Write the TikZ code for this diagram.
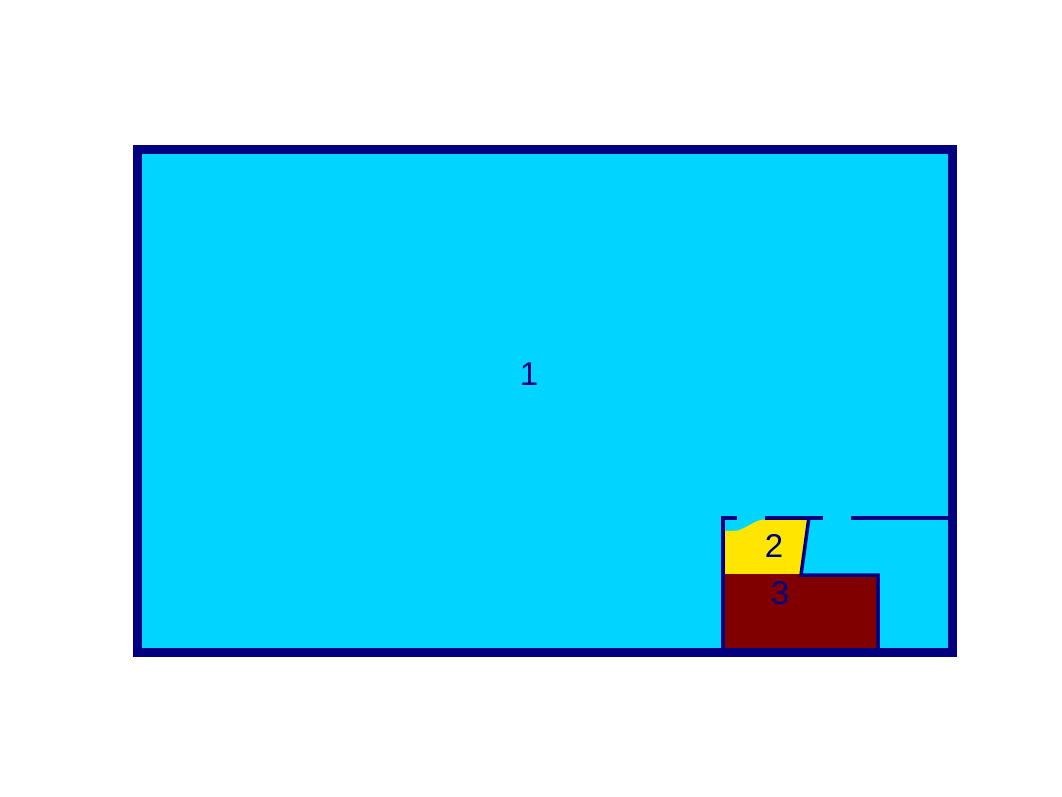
\documentclass[tikz,border=0pt]{standalone}
\usepackage{fontspec}
\setmainfont{Liberation Sans}
\usepackage{tikz}
\usetikzlibrary{calc}
\definecolor{wasser}{RGB}{0,212,255}
\definecolor{gelb}{RGB}{255,230,0}
\definecolor{braun}{RGB}{128,0,0}
\definecolor{rand}{RGB}{0,0,128}
\tikzset{
  wand/.style={draw=rand, line width=3.5pt},
  zahl/.style={text=rand, font=\fontsize{33}{33}\selectfont, inner sep=0pt}
}

\begin{document}
\begin{tikzpicture}[x=1pt, y=-1pt]
      \useasboundingbox (0,0) rectangle (1062,796);

      % 1. Außenrand und Wasserfläche
      \coordinate (R_1) at (137.5,149.5);
      \coordinate (R_2) at (952.5,652.5);
      \fill[wasser] (R_1) rectangle (R_2);

      % 2. Eckpunkte des kleinen Beckens
      \coordinate (K_1) at (723,518);
      \coordinate (K_2) at (723,649);
      \coordinate (S_1) at (809,517);
      \coordinate (S_2) at (801,575);
      \coordinate (T_1) at (878,575);
      \coordinate (T_2) at (878,649);

      % 3. gelbe Schicht mit gewölbter Oberkante
      \fill[gelb] (725,531) -- (738,530.5) .. controls (750,526) and (756,520) .. (763,519.5)
            -- (809,519.5) -- (801,574) -- (725,574) -- cycle;

      % 4. braune Schicht
      \fill[braun] (725,574) rectangle (877,649);

      % 5. Innenwände
      \draw[wand] (K_2) -- (K_1) -- (737,518);
      \draw[wand] (765,518) -- (823,518);
      \draw[wand] (851,518) -- (949,518);
      \draw[wand] (S_1) -- (S_2) -- (T_1) -- (T_2);

      % 6. Außenwand
      \draw[draw=rand, line width=9pt] (R_1) rectangle (R_2);

      % 7. Beschriftung
      \node[zahl] (z_1) at (529,374) {1};
      \node[zahl] (z_2) at (774,545.5) {2};
      \node[zahl] (z_3) at (780,593) {3};
    \end{tikzpicture}
\end{document}
